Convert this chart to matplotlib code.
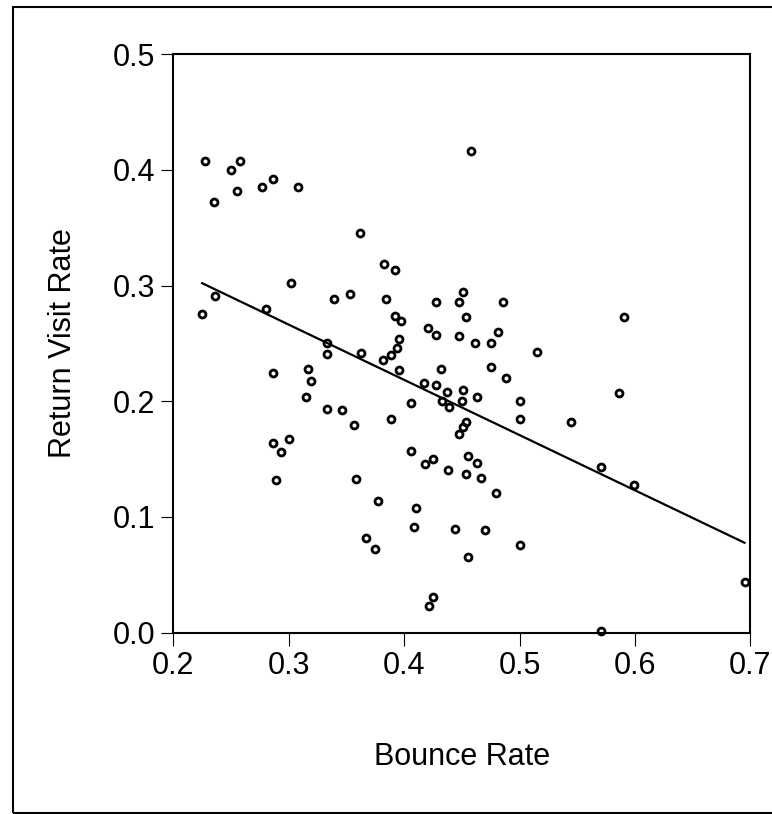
import numpy as np
import matplotlib
matplotlib.use("Agg")
import matplotlib.pyplot as plt
from matplotlib.patches import Rectangle

plt.rcParams['font.family'] = ['Liberation Sans', 'DejaVu Sans']

# data
bounce_rate = [
    0.2275, 0.250, 0.258, 0.2355, 0.2555, 0.277, 0.286, 0.308, 0.362, 0.458,
    0.225, 0.236, 0.280, 0.302, 0.286, 0.3165, 0.319, 0.315, 0.333, 0.333,
    0.333, 0.346, 0.339, 0.3535, 0.363, 0.357, 0.383, 0.392, 0.384, 0.392,
    0.397, 0.396, 0.3935, 0.389, 0.382, 0.396, 0.389, 0.406, 0.286, 0.293,
    0.300, 0.406, 0.425, 0.417, 0.428, 0.432, 0.437, 0.4325, 0.439, 0.421,
    0.428, 0.428, 0.448, 0.448, 0.451, 0.4535, 0.451, 0.450, 0.4535, 0.451,
    0.448, 0.4555, 0.4855, 0.5905, 0.4815, 0.4615, 0.475, 0.515, 0.475, 0.488,
    0.4635, 0.500, 0.500, 0.545, 0.586, 0.4634, 0.289, 0.3585, 0.377, 0.367,
    0.375, 0.418, 0.438, 0.4535, 0.410, 0.4085, 0.444, 0.4555, 0.425, 0.422,
    0.4665, 0.480, 0.4705, 0.500, 0.571, 0.5995, 0.695, 0.571,
]
return_visit_rate = [
    0.408, 0.400, 0.408, 0.372, 0.382, 0.385, 0.392, 0.385, 0.345, 0.416,
    0.275, 0.291, 0.280, 0.302, 0.2245, 0.228, 0.2175, 0.204, 0.250, 0.241,
    0.193, 0.1925, 0.288, 0.293, 0.242, 0.179, 0.319, 0.3135, 0.288, 0.274,
    0.269, 0.254, 0.246, 0.240, 0.236, 0.227, 0.185, 0.198, 0.164, 0.156,
    0.167, 0.157, 0.150, 0.216, 0.214, 0.228, 0.208, 0.200, 0.195, 0.263,
    0.257, 0.286, 0.256, 0.286, 0.294, 0.273, 0.210, 0.200, 0.182, 0.178,
    0.172, 0.153, 0.286, 0.273, 0.260, 0.250, 0.250, 0.2425, 0.2295, 0.220,
    0.2035, 0.200, 0.185, 0.182, 0.207, 0.1464, 0.1317, 0.1326, 0.114, 0.082,
    0.072, 0.146, 0.1406, 0.137, 0.1075, 0.0916, 0.0896, 0.0657, 0.031, 0.023,
    0.1334, 0.1205, 0.0888, 0.0755, 0.143, 0.1277, 0.044, 0.001,
]

x_ticks = [0.2, 0.3, 0.4, 0.5, 0.6, 0.7]
y_ticks = [0.0, 0.1, 0.2, 0.3, 0.4, 0.5]

x = np.array(bounce_rate)
y = np.array(return_visit_rate)

W, H = 772, 814
fig = plt.figure(figsize=(W / 100, H / 100), dpi=100)
ax = fig.add_axes([173.3 / W, 1 - 632.5 / H, (750.3 - 173.3) / W, (632.5 - 54.2) / H])

ax.plot(x, y, linestyle='none', marker='o', ms=5, mew=2,
        mfc='none', mec='black', clip_on=False, zorder=3)

# least squares line over the data range
slope, icpt = np.polyfit(x, y, 1)
xs = np.array([x.min(), x.max()])
ax.plot(xs, icpt + slope * xs, color='black', lw=1.6, zorder=2)

ax.set_xlim(0.2, 0.7)
ax.set_ylim(0.0, 0.5)
ax.set_xticks(x_ticks)
ax.set_yticks(y_ticks)
ax.set_xticklabels(["%.1f" % v for v in x_ticks])
ax.set_yticklabels(["%.1f" % v for v in y_ticks])
ax.tick_params(direction='out', length=9, width=0.8, labelsize=22, pad=4)
for s in ax.spines.values():
    s.set_linewidth(1.5)

ax.set_xlabel("Bounce Rate", fontsize=22)
ax.set_ylabel("Return Visit Rate", fontsize=22)
ax.xaxis.set_label_coords(0.5, -0.215)
ax.xaxis.label.set_va('center')
ax.yaxis.set_label_coords(-0.191, 0.5)
ax.yaxis.label.set_va('center')

# outer frame, runs off the right edge like in the source
fig.patches.append(Rectangle((12.7 / W, 1.3 / H), 1.2, (812.7 - 6.7) / H - 0.0,
                             transform=fig.transFigure, fill=False,
                             lw=1.5, edgecolor='black'))

fig.savefig("out.png", dpi=100, facecolor='white')
